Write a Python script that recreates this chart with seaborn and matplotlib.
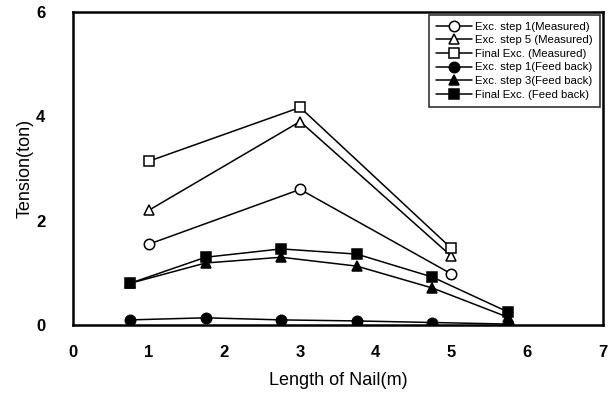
import matplotlib
matplotlib.use("Agg")
import matplotlib.pyplot as plt
import seaborn as sns
import pandas as pd

x_measured = [1, 3, 5]
step1_measured = [1.55, 2.60, 0.98]
step5_measured = [2.20, 3.90, 1.32]
final_measured = [3.14, 4.17, 1.47]

x_feedback = [0.75, 1.75, 2.75, 3.75, 4.75, 5.75]
step1_feedback = [0.10, 0.14, 0.10, 0.08, 0.05, 0.02]
step3_feedback = [0.80, 1.19, 1.30, 1.13, 0.71, 0.15]
final_feedback = [0.80, 1.30, 1.46, 1.36, 0.92, 0.25]

labels = ["Exc. step 1(Measured)", "Exc. step 5 (Measured)", "Final Exc. (Measured)",
          "Exc. step 1(Feed back)", "Exc. step 3(Feed back)", "Final Exc. (Feed back)"]

sns.set_style("white")
plt.rcParams['font.family'] = ['Liberation Sans', 'DejaVu Sans']
plt.rcParams['text.color'] = 'black'
plt.rcParams['axes.labelcolor'] = 'black'
plt.rcParams['xtick.color'] = 'black'
plt.rcParams['ytick.color'] = 'black'

series = [
    (x_measured, step1_measured, 'o', 'white'),
    (x_measured, step5_measured, '^', 'white'),
    (x_measured, final_measured, 's', 'white'),
    (x_feedback, step1_feedback, 'o', 'black'),
    (x_feedback, step3_feedback, '^', 'black'),
    (x_feedback, final_feedback, 's', 'black'),
]

fig = plt.figure(figsize=(6.15, 3.96), dpi=100)
ax = fig.add_axes([0.119, 0.179, 0.861, 0.791])

for (xs, ys, m, fc), lab in zip(series, labels):
    df = pd.DataFrame({"x": xs, "y": ys})
    sns.lineplot(data=df, x="x", y="y", ax=ax, color="black", linewidth=1.1,
                 marker=m, markersize=7.5, markerfacecolor=fc,
                 markeredgecolor="black", markeredgewidth=1.1, label=lab)

ax.set_xlim(0, 7)
ax.set_ylim(0, 6)
ax.set_xticks(range(0, 8))
ax.set_yticks([0, 2, 4, 6])
ax.tick_params(axis='x', labelsize=12, length=2, direction='in', pad=14)
ax.tick_params(axis='y', labelsize=12, length=2, direction='in', pad=20)
for lbl in ax.get_xticklabels() + ax.get_yticklabels():
    lbl.set_fontweight('bold')
for s in ax.spines.values():
    s.set_linewidth(1.8)
    s.set_color("black")
ax.set_xlabel("Length of Nail(m)", fontsize=13, labelpad=9)
ax.set_ylabel("Tension(ton)", fontsize=13, labelpad=2)

leg = ax.legend(loc="upper right", fontsize=8.2, frameon=True, fancybox=False,
                edgecolor="black", handlelength=3.2, borderpad=0.6,
                labelspacing=0.32, handletextpad=0.3, borderaxespad=0.25)
leg.get_frame().set_linewidth(1.2)

fig.savefig("out.png", dpi=100)
